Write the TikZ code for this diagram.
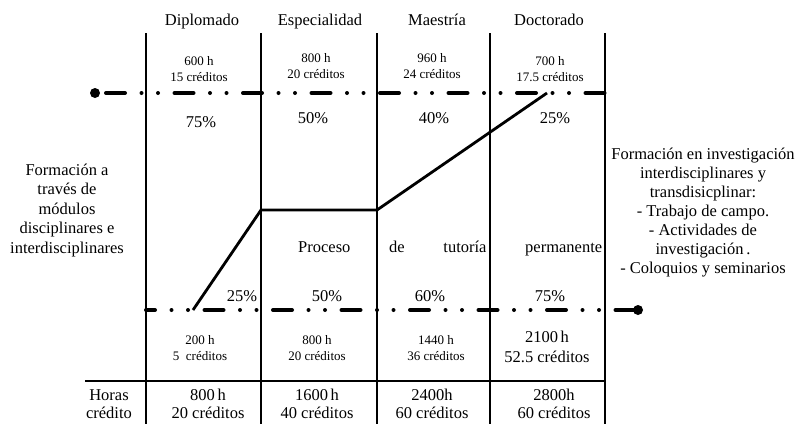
\documentclass[tikz,border=0pt]{standalone}
\usepackage{fontspec}
\setmainfont{Liberation Serif}
\usepackage{tikz}

\begin{document}
\begin{tikzpicture}[x = 1pt, y = -1pt,
	big/.style = {font = \fontsize{16.5}{19.5}\selectfont, align = center, inner sep = 0pt, anchor = base},
	small/.style = {font = \fontsize{13}{16}\selectfont, align = center, inner sep = 0pt, anchor = base},
	cell/.style = {font = \fontsize{16.5}{18}\selectfont, align = center, inner sep = 0pt, anchor = base},
	bar/.style = {line width = 2.8pt},
	dline/.style = {line width = 4pt, line cap = round, dash pattern = on 19pt off 16.5pt on 0pt off 16.5pt on 0pt off 16.5pt},
	endpt/.style = {circle, fill, inner sep = 0pt, minimum size = 10pt}]
		\useasboundingbox (0, 0) rectangle (802, 424);
		%%%%%%%%%%%%%
		\node[big] (d1) at (202, 25) {Diplomado};
		\node[big] (d2) at (320, 25) {Especialidad};
		\node[big] (d3) at (437, 25) {Maestría};
		\node[big] (d4) at (549, 25) {Doctorado};
		%%%%%%%%%%%%% (multi-line nodes placed by their last baseline)
		\node[small] (u1) at (199, 81) {600 h\\15 créditos};
		\node[small] (u2) at (316, 78) {800 h\\20 créditos};
		\node[small] (u3) at (432, 78) {960 h\\24 créditos};
		\node[small] (u4) at (550, 81) {700 h\\17.5 créditos};
		\node[big] (pu1) at (201, 127) {75\%};
		\node[big] (pu2) at (313, 123) {50\%};
		\node[big] (pu3) at (434, 123) {40\%};
		\node[big] (pu4) at (555, 123) {25\%};
		%%%%%%%%%%%%%
		\node[big] (pl1) at (242, 301) {25\%};
		\node[big] (pl2) at (327, 301) {50\%};
		\node[big] (pl3) at (430, 301) {60\%};
		\node[big] (pl4) at (550, 301) {75\%};
		\node[small] (l1) at (200, 360) {200 h\\5\ \ créditos};
		\node[small] (l2) at (317, 360) {800 h\\20 créditos};
		\node[small] (l3) at (436, 360) {1440 h\\36 créditos};
		\node[big, font = \fontsize{16.5}{20}\selectfont] (l4) at (547, 362) {2100\,h\\52.5 créditos};
		%%%%%%%%%%%%%
		\node[cell] (hc) at (109, 418) {Horas\\crédito};
		\node[cell] (s1) at (208, 418) {800\,h\\20 créditos};
		\node[cell] (s2) at (317, 418) {1600\,h\\40 créditos};
		\node[cell] (s3) at (432, 418) {2400h\\60 créditos};
		\node[cell] (s4) at (554, 418) {2800h\\60 créditos};
		%%%%%%%%%%%%%
		\node[big, anchor = base west] (proc) at (298, 252) {\makebox[304pt][s]{Proceso de tutoría permanente}};
		\node[big] (left) at (67, 253) {Formación a\\través de\\módulos\\disciplinares e\\interdisciplinares};
		\node[big, font = \fontsize{16.5}{19}\selectfont] (right) at (703, 273) {Formación en investigación\\interdisciplinares y\\transdisicplinar:\\- Trabajo de campo.\\- Actividades de\\investigación\,.\\- Coloquios y seminarios};
		%%%%%%%%%%%%%
		\node[endpt] (a) at (95, 93) {};
		\coordinate (b) at (605, 93);
		\coordinate (c) at (146, 310);
		\node[endpt] (e) at (638, 310) {};
		\coordinate (p0) at (193, 310); \coordinate (p1) at (261, 210);
		\coordinate (p2) at (377, 210); \coordinate (p3) at (547, 93);
		%%%%%%%%%%%%%
		\foreach \x in {146, 261, 377, 490, 605} \draw[bar] (\x, 33) -- (\x, 424);
		\draw[line width = 2.5pt] (85, 381) -- (605, 381);
		\draw[dline, dash phase = 57.5pt] (a.center) -- (b);
		\draw[dline, dash phase = 10pt] (c) -- (e.center);
		\draw[bar] (p0) -- (p1) -- (p2) -- (p3);
\end{tikzpicture}
\end{document}
